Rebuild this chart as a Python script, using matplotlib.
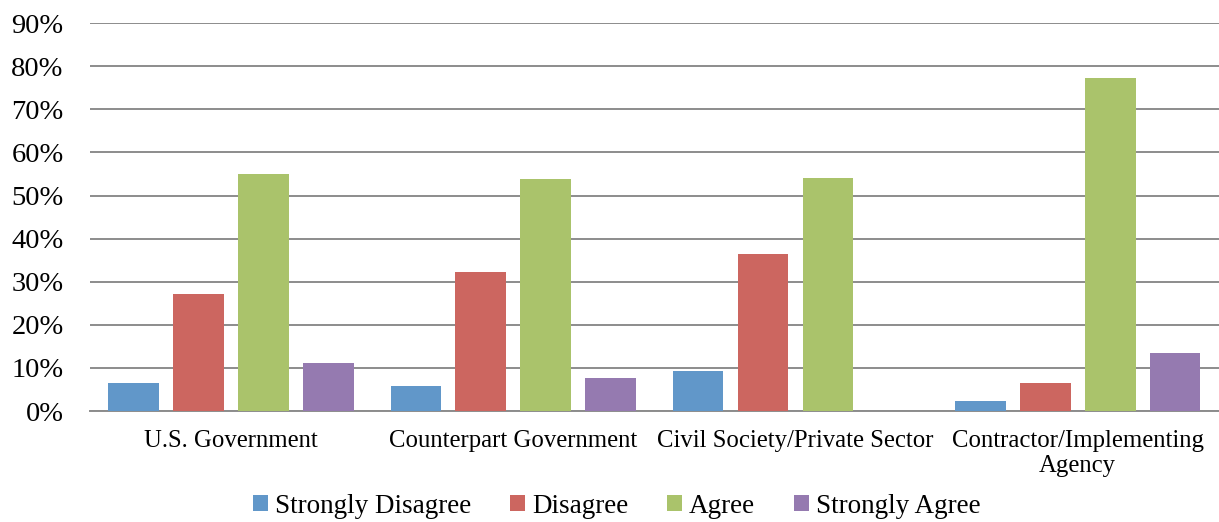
import numpy as np
import matplotlib
matplotlib.use("Agg")
import matplotlib.pyplot as plt

plt.rcParams['font.family'] = ['Liberation Serif', 'DejaVu Serif']

# data
categories = ['U.S. Government', 'Counterpart Government',
              'Civil Society/Private Sector', 'Contractor/Implementing\nAgency']
series = ['Strongly Disagree', 'Disagree', 'Agree', 'Strongly Agree']
strongly_disagree = [6.6, 5.7, 9.4, 2.4]
disagree = [27.1, 32.3, 36.4, 6.6]
agree = [54.9, 53.8, 54.1, 77.3]
strongly_agree = [11.1, 7.7, 0.0, 13.4]
yticks = [0, 10, 20, 30, 40, 50, 60, 70, 80, 90]

values = [strongly_disagree, disagree, agree, strongly_agree]
colors = ['#6197c9', '#cc6660', '#aac36b', '#957ab0']

fig = plt.figure(figsize=(12.19, 5.22), dpi=100)
ax = fig.add_axes([0.0738, 0.2126, 0.926, 0.743])

x = np.arange(len(categories))
width = 0.18
pitch = 0.23
for i, (name, vals, c) in enumerate(zip(series, values, colors)):
    ax.bar(x + (i - 1.5) * pitch, vals, width, color=c, label=name, zorder=3)

ax.set_xlim(-0.5, len(categories) - 0.5)
ax.set_ylim(0, 90)
ax.set_yticks(yticks)
ax.set_yticklabels([f'{t}%' for t in yticks], fontsize=20.5)
ax.set_xticks(x)
ax.set_xticklabels(categories, fontsize=17.8, linespacing=1.12)
ax.tick_params(axis='both', length=0)
ax.tick_params(axis='y', pad=19)
ax.tick_params(axis='x', pad=14)

ax.grid(axis='y', color='#8c8c8c', linewidth=1.4, zorder=0)
for s in ['top', 'right', 'left']:
    ax.spines[s].set_visible(False)
ax.spines['bottom'].set_color('#8c8c8c')
ax.spines['bottom'].set_linewidth(1.4)

fig.legend(loc='center', bbox_to_anchor=(0.506, 0.03), ncol=4, frameon=False,
           fontsize=19.5, handlelength=0.55, handleheight=0.55, handletextpad=0.25,
           columnspacing=1.45, borderpad=0.2)

fig.savefig('out.png', dpi=100)
